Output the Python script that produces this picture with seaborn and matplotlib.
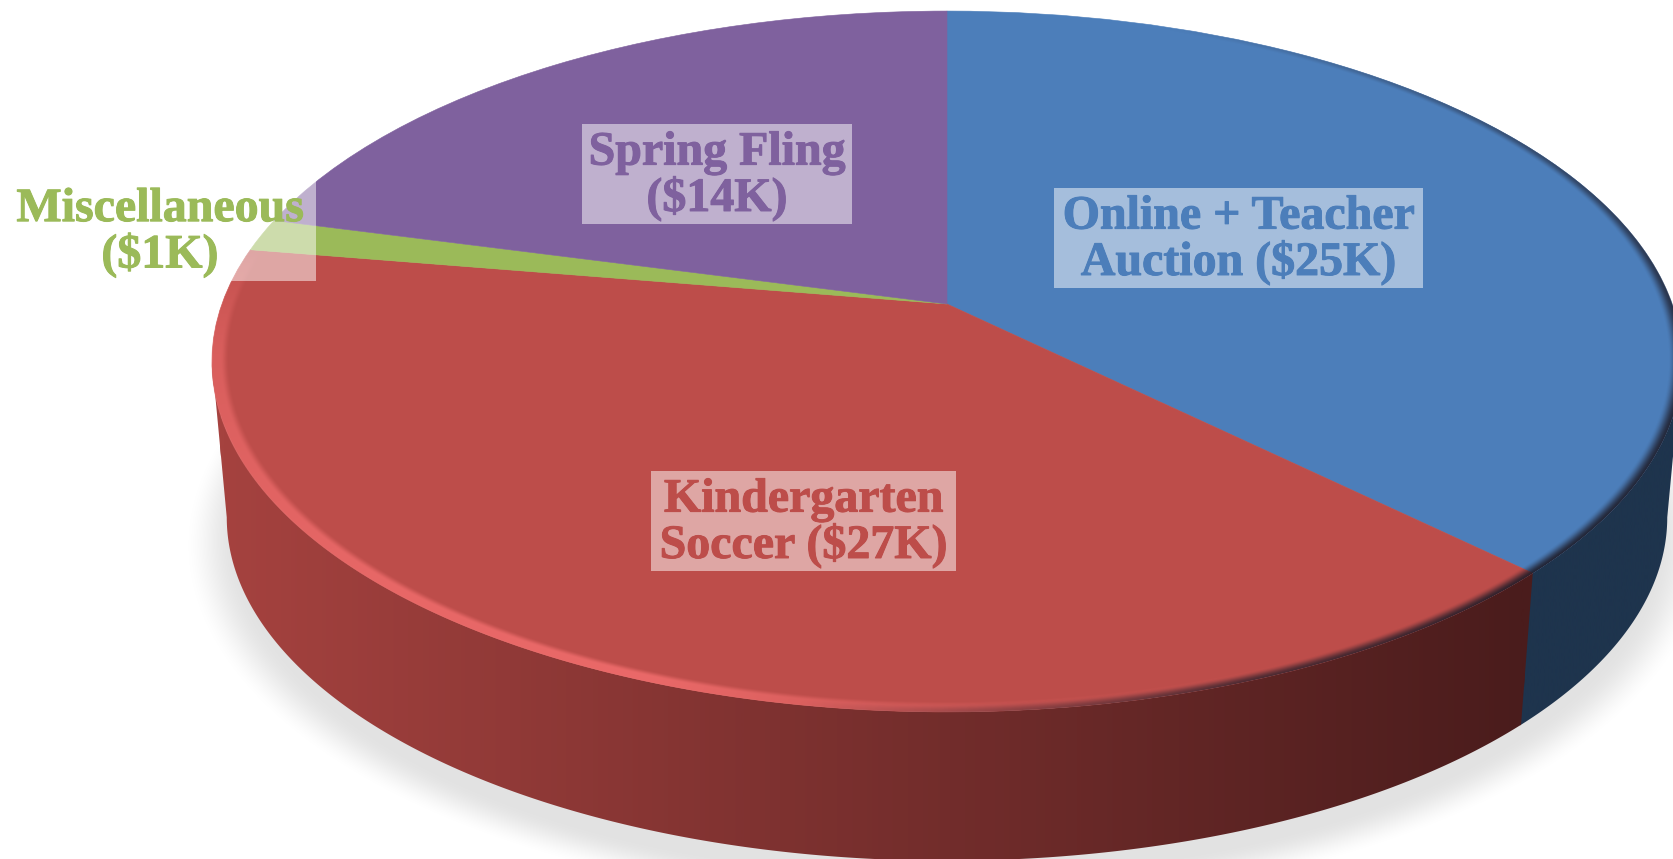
import numpy as np
import matplotlib
matplotlib.use("Agg")
import matplotlib.pyplot as plt
import matplotlib.patheffects as pe
from matplotlib.colors import LinearSegmentedColormap
from matplotlib.patches import Polygon, Rectangle
from matplotlib.transforms import Transform
import seaborn as sns

# ---- data -------------------------------------------------------------
categories = ["Online + Teacher\nAuction ($25K)", "Kindergarten\nSoccer ($27K)",
              "Miscellaneous\n($1K)", "Spring Fling\n($14K)"]
values = [25, 27, 1, 14]
slice_hex = ["#4C7EBA", "#BD4D4A", "#9BBA59", "#7F619E"]

# ---- layout -----------------------------------------------------------
W, H = 1674, 859
APEX_X, APEX_Y = 947.0, 304.0
K, A, B = 0.164, 725.0, 341.0          # perspective of the pie's top face
WALL_SCALE, WALL_DROP = 0.98, 157.0    # bottom rim relative to the top rim
label_boxes = [(1054, 188, 1423, 288), (651, 471, 956, 571),
               (4, 180, 316, 281), (582, 124, 852, 224)]

sns.set_theme(style="white")
plt.rcParams["font.family"] = ["Liberation Serif", "DejaVu Serif"]
palette = sns.color_palette(slice_hex)


class Perspective(Transform):
    """Tilts the flat unit-circle pie into the picture plane."""
    input_dims = output_dims = 2
    is_affine = False

    def transform_non_affine(self, xy):
        xy = np.asarray(xy, float)
        w = 1 + K * xy[:, 1]
        return np.column_stack((APEX_X + A * xy[:, 0] / w, APEX_Y - B * xy[:, 1] / w))


def rim(theta_deg, scale=1.0, drop=0.0):
    t = np.radians(theta_deg)
    u, v = np.sin(t), np.cos(t)
    w = 1 + K * v
    return np.column_stack((APEX_X + scale * A * u / w, APEX_Y + drop - scale * B * v / w))


def inverse(px, py, scale=1.0, drop=0.0):
    dx = (px - APEX_X) / scale
    dy = (APEX_Y + drop - py) / scale
    v = dy / (B - K * dy)
    u = dx / A * (1 + K * v)
    return u, v


def smooth(t):
    t = np.clip(t, 0, 1)
    return t * t * (3 - 2 * t)


fig = plt.figure(figsize=(W / 100, H / 100), dpi=100, facecolor="white")
ax = fig.add_axes([0, 0, 1, 1])

px, py = np.meshgrid(np.arange(W) + 0.5, np.arange(H) + 0.5)
extent = (0, W, H, 0)

# soft floor shadow
su, sv = inverse(px, py, WALL_SCALE, WALL_DROP + 22)
sr = np.hypot(su, sv)
shadow = np.zeros((H, W, 4))
shadow[..., 3] = 0.115 * (1 - smooth((sr - 0.985) / 0.075))
ax.imshow(shadow, extent=extent, zorder=1, interpolation="nearest")

# side walls: only the part between the slice edge and the silhouette tangent
edges = np.concatenate(([0], np.cumsum(values) / np.sum(values) * 360))
tangent = np.degrees(np.arccos(-K))     # where the face is widest
red_wall = LinearSegmentedColormap.from_list("rw", ["#A5423F", "#4A1C1C"])
blue_wall = LinearSegmentedColormap.from_list("bw", ["#1E344D", "#1E344D"])
ramp = np.linspace(0, 1, 512)[None, :]
walls = ((tangent, edges[1] + 0.15, blue_wall, (1400, W + 10)),
         (edges[1], 360 - tangent, red_wall, (220, 1525)))
for start, end, cmap, (gx0, gx1) in walls:
    th = np.linspace(start, end, 300)
    poly = np.vstack((rim(th), rim(th[::-1], WALL_SCALE, WALL_DROP)))
    patch = Polygon(poly, closed=True, fc="none", ec="none", transform=ax.transData)
    ax.add_patch(patch)
    im = ax.imshow(ramp, cmap=cmap, extent=(0, W, H, 0), aspect="auto", zorder=2)
    im.set_extent((gx0, gx1, H, 0))
    im.set_clip_path(patch)
    # keep the ramp's end colours beyond its span
    pad = ax.imshow(ramp[:, -1:], cmap=cmap, vmin=0, vmax=1, extent=(gx1 - 1, W + 10, H, 0),
                    aspect="auto", zorder=2)
    pad.set_clip_path(patch)
    pad2 = ax.imshow(ramp[:, :1], cmap=cmap, vmin=0, vmax=1, extent=(0, gx0 + 1, H, 0),
                     aspect="auto", zorder=2)
    pad2.set_clip_path(patch)

# top face: a real pie, tilted by the perspective transform
wedges, _ = ax.pie(values, colors=palette, startangle=90, counterclock=False,
                   radius=1, center=(0, 0))
persp = Perspective()
for wedge, col in zip(wedges, palette):
    wedge.set_transform(persp + ax.transData)
    wedge.set_edgecolor(col)
    wedge.set_linewidth(0.4)
    wedge.set_zorder(3)
    wedge.set_clip_on(False)

# bevel along the top rim
u, v = inverse(px, py)
r = np.hypot(u, v)
theta = np.degrees(np.arctan2(u, v)) % 360
inside = np.clip((1.0015 - r) / 0.002, 0, 1)

glow = np.interp(theta, [edges[1] + 15, 175, 200, 225, 262, edges[2] - 3, edges[2]],
                 [0, 0.2, 0.8, 0.75, 0.5, 0.15, 0])
glow_band = smooth((r - 0.977) / 0.012)
bevel = np.zeros((H, W, 4))
bevel[..., :3] = np.array([245, 112, 112]) / 255
bevel[..., 3] = glow * glow_band * inside
ax.imshow(bevel, extent=extent, zorder=4, interpolation="nearest")

dark = np.interp(theta, [20, 60, 100, edges[1], 160, 190], [0, 0.5, 0.85, 0.9, 0.7, 0])
dark_band = smooth((r - 0.982) / 0.018)
shade = np.zeros((H, W, 4))
shade[..., :3] = np.array([30, 28, 40]) / 255
shade[..., 3] = dark * dark_band * inside
ax.imshow(shade, extent=extent, zorder=4, interpolation="nearest")

# labels
for text, col, (x0, y0, x1, y1) in zip(categories, palette, label_boxes):
    ax.add_patch(Rectangle((x0, y0), x1 - x0, y1 - y0, fc="white", ec="none",
                           alpha=0.5, zorder=5))
    ax.text((x0 + x1) / 2, (y0 + y1) / 2 + 2, text, color=col, ha="center", va="center",
            fontsize=34.5, fontweight="bold", linespacing=1.01, zorder=6,
            clip_on=False, path_effects=[pe.withStroke(linewidth=0.7, foreground=col)])

ax.set_xlim(0, W)
ax.set_ylim(H, 0)
ax.set_aspect("auto")
ax.axis("off")
fig.savefig("out.png", dpi=100, facecolor="white")
